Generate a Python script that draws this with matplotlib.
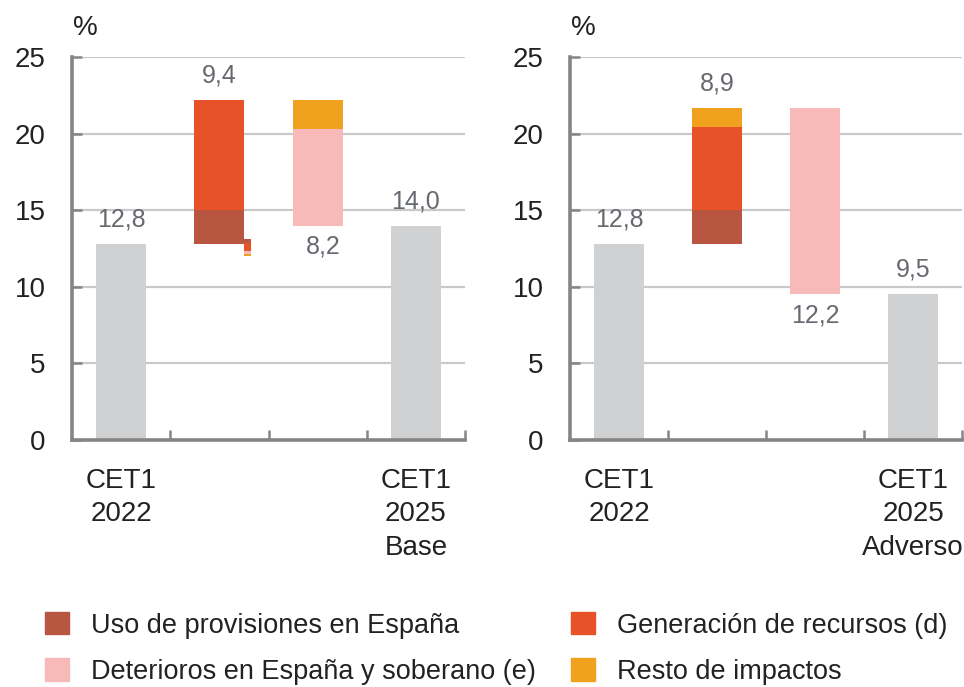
import numpy as np
import matplotlib.pyplot as plt

plt.rcParams['font.family'] = ['Liberation Sans', 'DejaVu Sans']

# datos (pp de CET1)
escenarios = ['Base', 'Adverso']
cet1_2022 = [12.8, 12.8]
uso_provisiones = [2.2, 2.2]
generacion = [7.2, 5.4]
resto = [-1.9, 1.3]
deterioros = [6.3, 12.2]
cet1_2025 = [14.0, 9.5]
aumento_total = [9.4, 8.9]
descenso_total = [8.2, 12.2]
etiquetas_x = ['CET1\n2022', 'CET1\n2025\n{}']

# pequeña pila junto a la barra de aumento (escenario base)
mini_base = 12.0
mini_pila = [0.15, 0.2, 0.5, 0.3]  # resto, deterioros, generacion, uso

c_uso = '#B85641'
c_gen = '#E85228'
c_det = '#F7BAB8'
c_resto = '#F0A11E'
c_gris = '#D0D1D3'
c_eje = '#858585'
c_texto = '#222222'
c_valor = '#666a70'

fig = plt.figure(figsize=(9.64, 6.87), dpi=100)
posiciones = [[0.0747, 0.3595, 0.4077, 0.5575], [0.5913, 0.3595, 0.4067, 0.5575]]
w = 0.51
fs = 20
fs_val = 18
off = 1.6

def fmt(v):
    return f'{v:.1f}'.replace('.', ',')

for i, esc in enumerate(escenarios):
    ax = fig.add_axes(posiciones[i])
    ax.set_xlim(-0.5, 3.5)
    ax.set_ylim(0, 25)

    # CET1 inicial
    ax.bar(0, cet1_2022[i], w, color=c_gris, zorder=2)
    ax.text(0, cet1_2022[i] + off, fmt(cet1_2022[i]), ha='center', va='center',
            fontsize=fs_val, color=c_valor)

    # aumentos
    base = cet1_2022[i]
    ax.bar(1, uso_provisiones[i], w, bottom=base, color=c_uso, zorder=2)
    base += uso_provisiones[i]
    ax.bar(1, generacion[i], w, bottom=base, color=c_gen, zorder=2)
    base += generacion[i]
    if resto[i] > 0:
        ax.bar(1, resto[i], w, bottom=base, color=c_resto, zorder=2)
        base += resto[i]
    tope = base
    ax.text(1, tope + off, fmt(aumento_total[i]), ha='center', va='center',
            fontsize=fs_val, color=c_valor)

    # descensos
    if resto[i] < 0:
        base += resto[i]
        ax.bar(2, -resto[i], w, bottom=base, color=c_resto, zorder=2)
    base -= deterioros[i]
    ax.bar(2, deterioros[i], w, bottom=base, color=c_det, zorder=2)
    ax.text(2.06 if i == 0 else 2.0, base - 1.4, fmt(descenso_total[i]),
            ha='center', va='center', fontsize=fs_val, color=c_valor)

    # CET1 final
    ax.bar(3, cet1_2025[i], w, color=c_gris, zorder=2)
    ax.text(3, cet1_2025[i] + off, fmt(cet1_2025[i]), ha='center', va='center',
            fontsize=fs_val, color=c_valor)

    if i == 0:
        b = mini_base
        for v, c in zip(mini_pila, [c_resto, c_det, c_gen, c_uso]):
            ax.bar(1.285, v, 0.07, bottom=b, color=c, zorder=2)
            b += v

    # ejes
    ax.set_yticks([0, 5, 10, 15, 20, 25])
    ax.yaxis.grid(True, color='#c9c9c9', lw=1.6, zorder=0)
    ax.set_axisbelow(True)
    ax.set_xticks([0, 3])
    ax.set_xticklabels([etiquetas_x[0], etiquetas_x[1].format(esc)],
                       fontsize=fs, color=c_texto, ma='center', linespacing=1.37)
    ax.set_xticks([0.5, 1.5, 2.5, 3.5], minor=True)
    ax.tick_params(axis='x', which='major', length=0, pad=20)
    ax.tick_params(axis='x', which='minor', direction='in', length=7,
                   width=1.8, color=c_eje)
    ax.tick_params(axis='y', direction='in', length=7, width=1.8, color=c_eje,
                   labelsize=fs, labelcolor=c_texto, pad=19)
    for s in ['top', 'right']:
        ax.spines[s].set_visible(False)
    for s in ['left', 'bottom']:
        ax.spines[s].set_color(c_eje)
        ax.spines[s].set_linewidth(2.6)
    ax.text(0.033, 1.075, '%', transform=ax.transAxes, ha='center', va='center',
            fontsize=fs, color=c_texto)

# leyenda
handles = [plt.Rectangle((0, 0), 1, 1, color=c) for c in [c_uso, c_det, c_gen, c_resto]]
nombres = ['Uso de provisiones en España', 'Deterioros en España y soberano (e)',
           'Generación de recursos (d)', 'Resto de impactos']
fig.legend(handles, nombres, ncol=2, loc='lower left', bbox_to_anchor=(0.021, -0.032),
           frameon=False, fontsize=19.5, handlelength=0.9, handleheight=0.9,
           handletextpad=0.8, columnspacing=1.3, labelspacing=0.72,
           labelcolor=c_texto)

fig.savefig('out.png', dpi=100)
